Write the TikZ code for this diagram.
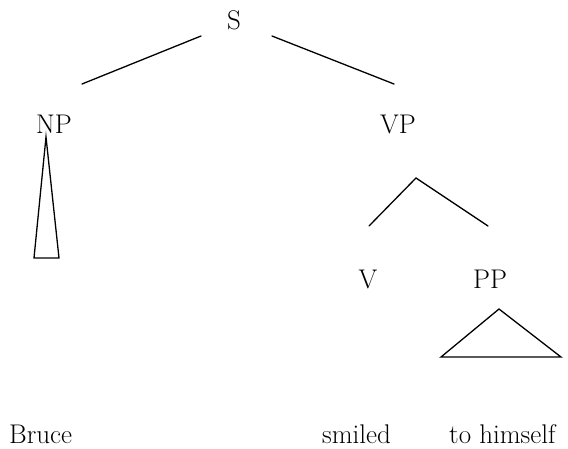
\documentclass[tikz,border=0pt]{standalone}
\usetikzlibrary{calc}
\begin{document}
\begin{tikzpicture}[x=1pt,y=-1pt,
  lbl/.style={inner sep=0pt,anchor=base,font=\fontsize{27}{32}\selectfont},
  word/.style={inner sep=0pt,anchor=base west,font=\fontsize{27}{32}\selectfont},
  branch/.style={line width=1.3pt,line cap=round,line join=miter},
  roofshape/.style={line width=1.3pt,line join=miter}]
\useasboundingbox (0,0) rectangle (568,448);

% category labels
\node[lbl] (S)  at (234,29)  {S};
\node[lbl] (NP) at (54,133)  {NP};
\node[lbl] (VP) at (398,133) {VP};
\node[lbl] (V)  at (368,288) {V};
\node[lbl] (PP) at (490,288) {PP};

% terminal words
\node[word] (bruce)  at (9,443)   {Bruce};
\node[word] (smiled) at (322,443) {smiled};
\node[word] (tohim)  at (449,443) {to himself};

% branch end points
\coordinate (sL) at (201,36);
\coordinate (npTop) at (82,84);
\coordinate (sR) at (272,36);
\coordinate (vpTop) at (394,84);
\coordinate (vpFork) at (416,178);
\coordinate (vTop) at (369,226);
\coordinate (ppTop) at (488,226);

% S -> NP VP
\draw[branch] (sL) -- (npTop);
\draw[branch] (sR) -- (vpTop);

% VP -> V PP
\draw[branch] (vTop) -- (vpFork) -- (ppTop);

% roof under NP
\coordinate (npApex) at (46,137);
\draw[roofshape] (npApex) -- (59,258) -- (34,258) -- cycle;

% roof under PP
\coordinate (ppApex) at (499,309);
\draw[roofshape] (ppApex) -- (561,357) -- (441,357) -- cycle;
\end{tikzpicture}
\end{document}
